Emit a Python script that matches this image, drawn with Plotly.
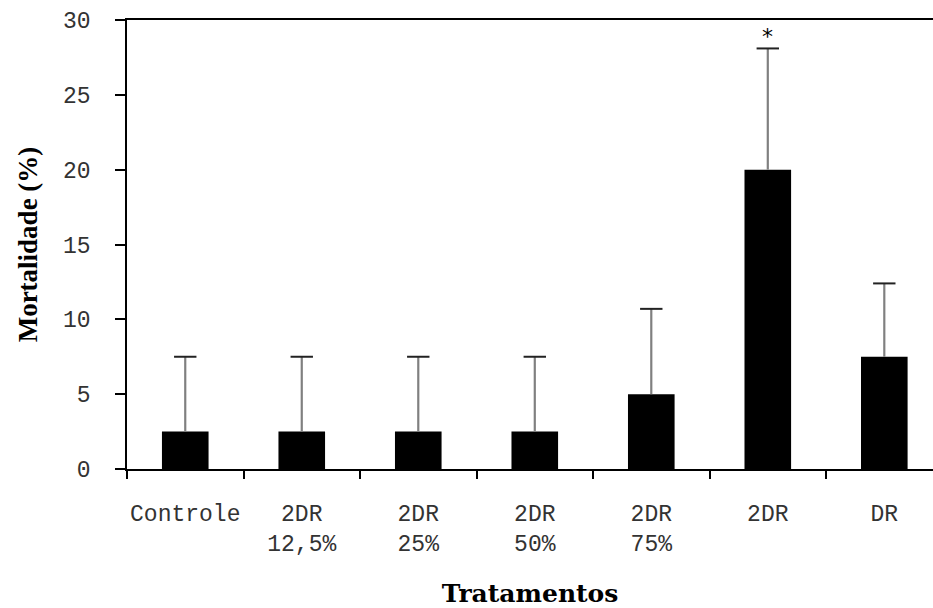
import plotly.graph_objects as go

categories = ["Controle", "2DR<br>12,5%", "2DR<br>25%", "2DR<br>50%", "2DR<br>75%", "2DR", "DR"]
mortalidade = [2.5, 2.5, 2.5, 2.5, 5.0, 20.0, 7.5]
erro = [5.0, 5.0, 5.0, 5.0, 5.7, 8.1, 4.9]
y_ticks = [0, 5, 10, 15, 20, 25, 30]
signif_cat = "2DR"
signif_y = 28.9

tops = [m + e for m, e in zip(mortalidade, erro)]

fig = go.Figure()
fig.add_trace(go.Bar(
    x=categories, y=mortalidade, width=0.4,
    marker=dict(color="black", line=dict(width=0)),
    error_y=dict(type="data", array=erro, arrayminus=[0] * len(erro),
                 symmetric=False, color="#808080", thickness=2.2, width=0),
    showlegend=False,
))
fig.add_trace(go.Scatter(
    x=categories, y=tops, mode="markers",
    marker=dict(symbol="line-ew", size=16, line=dict(color="#222222", width=2)),
    showlegend=False, hoverinfo="skip",
))
fig.add_annotation(x=signif_cat, y=signif_y, text="*", showarrow=False,
                   font=dict(family="DejaVu Sans", size=22, color="black"))

mono = "Liberation Mono"
fig.update_layout(
    width=933, height=608,
    margin=dict(l=127, r=0, t=20, b=139),
    plot_bgcolor="white", paper_bgcolor="white",
    bargap=0.6,
)
fig.update_xaxes(
    type="category", range=[-0.5, 6.418], automargin=False,
    showline=True, linecolor="black", linewidth=1.5, mirror=True,
    ticks="outside", tickson="boundaries", ticklen=8, tickcolor="black", tickwidth=1.5,
    showgrid=False, zeroline=False, tickangle=0,
    tickfont=dict(family=mono, size=23, color="#333333"),
    ticklabelstandoff=23,
    title=dict(text="<b>Tratamentos</b>", standoff=28,
               font=dict(family="DejaVu Serif", size=25, color="black")),
)
fig.update_yaxes(
    range=[0, 30], tickvals=y_ticks, automargin=False,
    showline=True, linecolor="black", linewidth=1.5,
    ticks="outside", ticklen=10, tickcolor="black", tickwidth=1.5,
    showgrid=False, zeroline=False,
    tickfont=dict(family=mono, size=23, color="#333333"),
    ticklabelstandoff=20,
    title=dict(text="<b>Mortalidade (%)</b>", standoff=18,
               font=dict(family="Liberation Serif", size=27, color="black")),
)

fig.write_html("out.html")
